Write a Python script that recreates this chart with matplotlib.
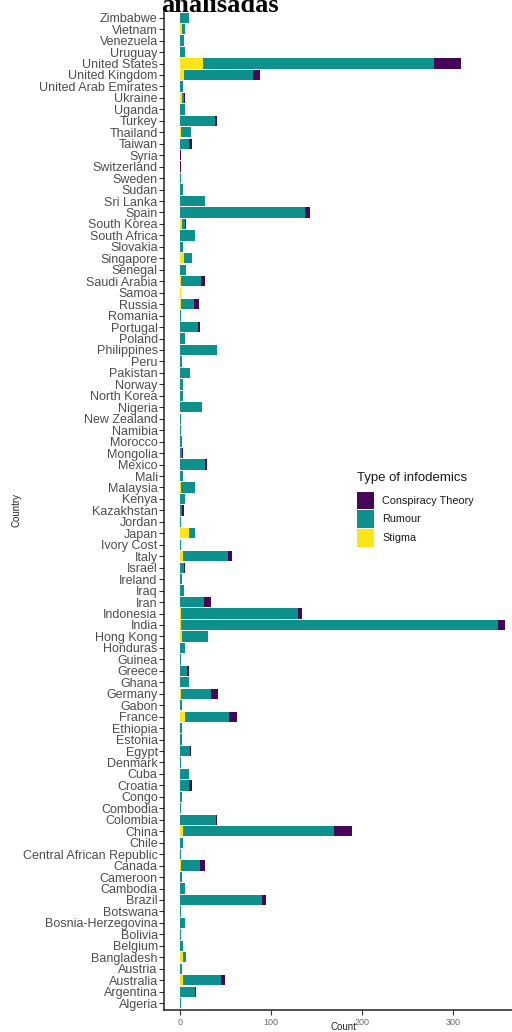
import matplotlib
matplotlib.use("Agg")
import matplotlib.pyplot as plt
from matplotlib.patches import Rectangle
import numpy as np

countries = ["Algeria", "Argentina", "Australia", "Austria", "Bangladesh", "Belgium", "Bolivia",
             "Bosnia-Herzegovina", "Botswana", "Brazil", "Cambodia", "Cameroon", "Canada",
             "Central African Republic", "Chile", "China", "Colombia", "Combodia", "Congo", "Croatia",
             "Cuba", "Denmark", "Egypt", "Estonia", "Ethiopia", "France", "Gabon", "Germany", "Ghana",
             "Greece", "Guinea", "Honduras", "Hong Kong", "India", "Indonesia", "Iran", "Iraq",
             "Ireland", "Israel", "Italy", "Ivory Cost", "Japan", "Jordan", "Kazakhstan", "Kenya",
             "Malaysia", "Mali", "Mexico", "Mongolia", "Morocco", "Namibia", "New Zealand", "Nigeria",
             "North Korea", "Norway", "Pakistan", "Peru", "Philippines", "Poland", "Portugal",
             "Romania", "Russia", "Samoa", "Saudi Arabia", "Senegal", "Singapore", "Slovakia",
             "South Africa", "South Korea", "Spain", "Sri Lanka", "Sudan", "Sweden", "Switzerland",
             "Syria", "Taiwan", "Thailand", "Turkey", "Uganda", "Ukraine", "United Arab Emirates",
             "United Kingdom", "United States", "Uruguay", "Venezuela", "Vietnam", "Zimbabwe"]

stigma = [0, 0, 3, 0, 3, 0, 0,
          0, 0, 0, 0, 0, 1,
          0, 0, 3, 0, 0, 0, 0,
          0, 0, 0, 0, 0, 6, 0, 1, 0,
          0, 0, 0, 2, 1, 1, 0, 0,
          0, 0, 3, 0, 10, 0, 0, 0,
          1, 0, 0, 0, 0, 0, 0, 0,
          0, 0, 0, 0, 0, 0, 0,
          0, 1, 1, 1, 0, 4, 0,
          0, 2, 0, 0, 0, 0, 0,
          0, 0, 1, 0, 0, 2, 0,
          4, 25, 0, 0, 2, 0]

rumour = [1, 17, 42, 2, 4, 3, 1,
          6, 1, 90, 5, 2, 21,
          1, 3, 166, 40, 1, 2, 10,
          10, 1, 11, 2, 2, 48, 2, 33, 10,
          8, 1, 5, 29, 348, 129, 26, 4,
          2, 4, 50, 1, 7, 1, 2, 6,
          16, 3, 27, 2, 2, 1, 1, 24,
          3, 3, 11, 2, 41, 5, 20,
          1, 14, 0, 22, 7, 9, 3,
          16, 3, 137, 28, 3, 1, 0,
          0, 10, 11, 38, 5, 2, 3,
          76, 254, 5, 4, 3, 10]

conspiracy = [0, 1, 4, 0, 0, 0, 0,
              0, 0, 4, 0, 0, 6,
              0, 0, 20, 1, 0, 0, 3,
              0, 0, 1, 0, 0, 9, 0, 8, 0,
              2, 0, 0, 0, 8, 4, 8, 0,
              0, 2, 4, 0, 0, 0, 2, 0,
              0, 0, 3, 1, 0, 0, 0, 0,
              0, 0, 0, 0, 0, 0, 2,
              0, 6, 0, 4, 0, 0, 0,
              0, 2, 6, 0, 0, 0, 1,
              1, 3, 0, 3, 0, 2, 0,
              8, 30, 0, 0, 0, 0]

series_names = ["Conspiracy Theory", "Rumour", "Stigma"]
colors = {"Conspiracy Theory": "#46065A", "Rumour": "#0E918C", "Stigma": "#FBE516"}
x_ticks = [0, 100, 200, 300]

plt.rcParams['font.family'] = ['Liberation Sans', 'DejaVu Sans']

W, H = 512, 1032
fig = plt.figure(figsize=(W / 100, H / 100), dpi=100)
ax = fig.add_axes([164 / W, 1 - 1010 / H, 348 / W, (1010 - 10.8) / H])

y = np.arange(len(countries))
s = np.array(stigma, dtype=float)
r = np.array(rumour, dtype=float)
c = np.array(conspiracy, dtype=float)

ax.barh(y, s, height=0.9, color=colors["Stigma"], linewidth=0)
ax.barh(y, r, left=s, height=0.9, color=colors["Rumour"], linewidth=0)
ax.barh(y, c, left=s + r, height=0.9, color=colors["Conspiracy Theory"], linewidth=0)

ax.set_xlim(-17.6, 364.8)
ax.set_ylim(-0.6, len(countries) - 0.4)
ax.set_yticks(y)
ax.set_yticklabels(countries, fontsize=9, color="#4D4D4D")
ax.set_xticks(x_ticks)
ax.set_xticklabels([str(t) for t in x_ticks], fontsize=6.5, color="#6A6A6A")
ax.tick_params(axis="y", length=3.5, width=0.8, color="#333333", pad=1)
ax.tick_params(axis="x", length=3.5, width=0.8, color="#333333", pad=2)

for side in ["top", "right"]:
    ax.spines[side].set_visible(False)
for side in ["left", "bottom"]:
    ax.spines[side].set_linewidth(1.1)
    ax.spines[side].set_color("#222222")

ax.set_xlabel("Count", fontsize=7, color="#222222")
ax.xaxis.set_label_coords((343 - 164) / 348, (1010 - 1027) / 999.2)
ax.xaxis.label.set_va("center")
ax.set_ylabel("Country", fontsize=7, color="#222222")
ax.yaxis.set_label_coords((17 - 164) / 348, 0.5)
ax.yaxis.label.set_va("center")

# legend (drawn manually to match position)
fig.text(357 / W, 1 - 478 / H, "Type of infodemics", fontsize=9.5, color="#1A1A1A",
         ha="left", va="center")
key_centers = [500.5, 519.2, 538.3]
for name, yc in zip(series_names, key_centers):
    fig.patches.append(Rectangle((357 / W, 1 - (yc + 8.8) / H), 17 / W, 17.6 / H,
                                 transform=fig.transFigure, facecolor=colors[name],
                                 edgecolor="none", figure=fig))
    fig.text(382 / W, 1 - yc / H, name, fontsize=7.8, color="#1A1A1A", ha="left", va="center")

fig.text(220 / W, 1 - 12 / H, "analisadas", fontsize=19, fontweight="bold",
         family="Liberation Serif", ha="center", va="baseline", color="black")

fig.savefig("out.png", dpi=100)
